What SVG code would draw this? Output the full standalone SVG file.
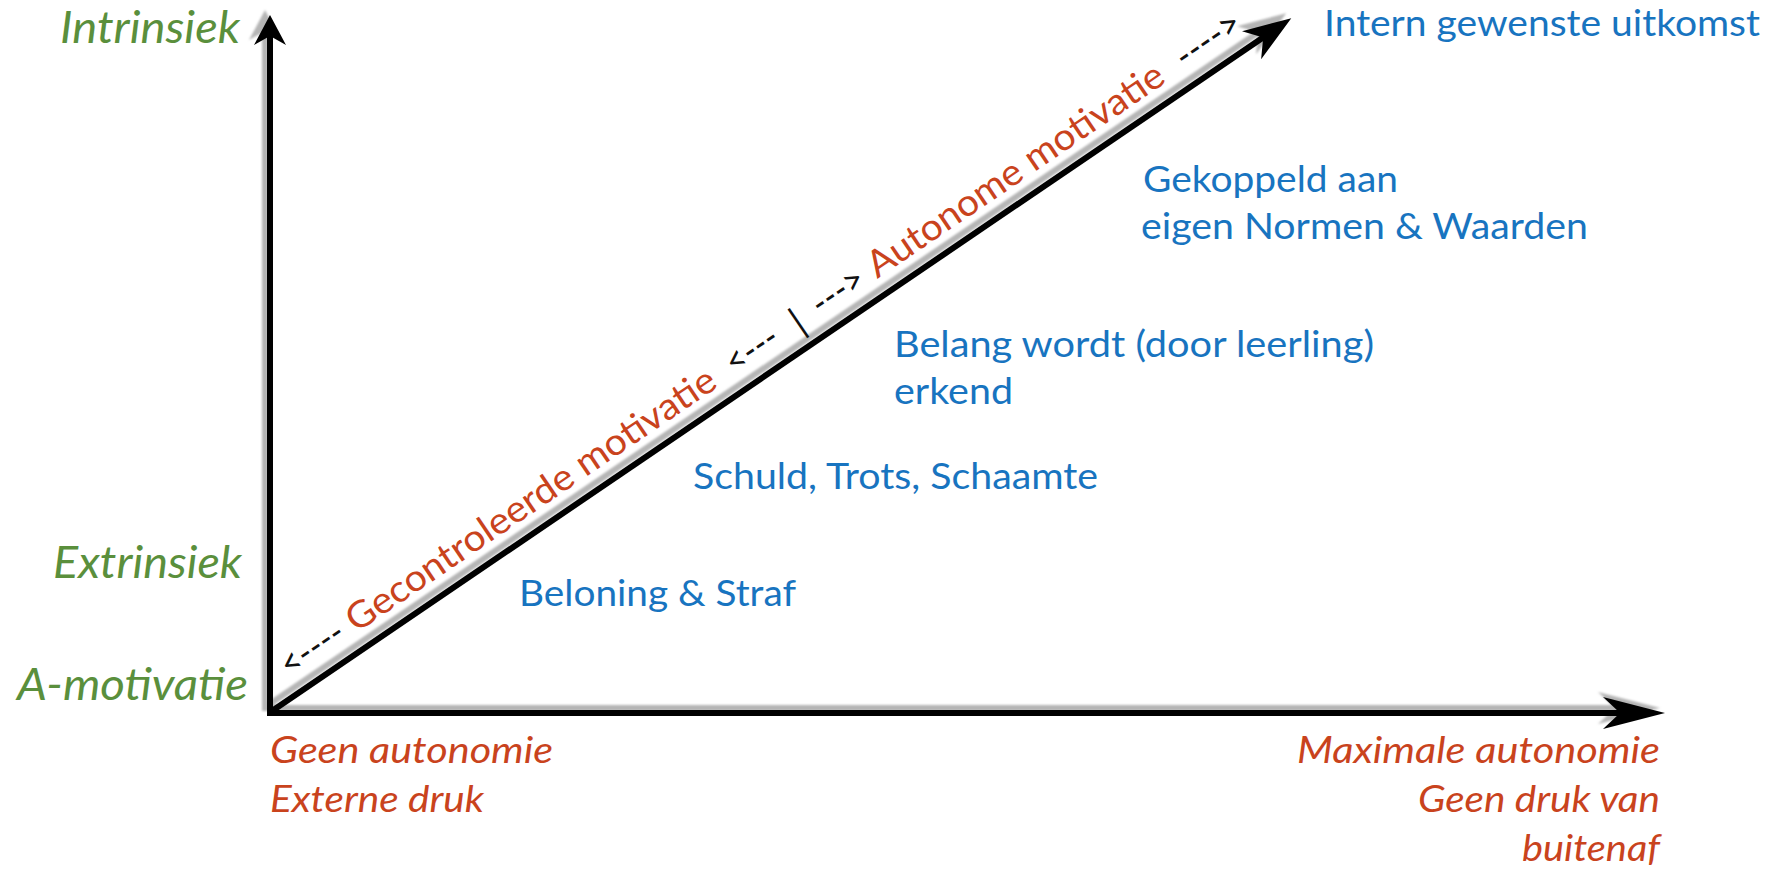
<svg xmlns="http://www.w3.org/2000/svg" width="1775" height="873" viewBox="0 0 1775 873">
<defs>
<style>
.g{font-family:Lato,"Liberation Sans",sans-serif;font-style:italic;font-size:44px;fill:#5a8f3c}
.r{font-family:Lato,"Liberation Sans",sans-serif;font-style:italic;font-size:37px;fill:#c9431d}
.b{font-family:Lato,"Liberation Sans",sans-serif;font-size:37px;fill:#1874c0}
.dr{font-family:Lato,"Liberation Sans",sans-serif;font-size:37px;fill:#c9431d}
.dk{font-family:Lato,"Liberation Sans",sans-serif;font-size:37px;fill:#111}
.ax{stroke:#000;stroke-width:6;fill:none}
.axs{stroke:#b5b5b5;stroke-width:6;fill:none}
.ah{fill:#000}
.ahs{fill:#b5b5b5}
</style>
<filter id="blur" x="-5%" y="-5%" width="110%" height="110%"><feGaussianBlur stdDeviation="1.3"/></filter>
</defs>
<rect width="1775" height="873" fill="#fff"/>

<g id="connectors">
  <g id="shadows" transform="translate(-5,-5)" filter="url(#blur)">
    <line class="axs" x1="270" y1="716" x2="270" y2="38"/>
    <path class="ahs" d="M270,15 L254,45 L270,36 L286,45 Z"/>
    <line class="axs" x1="267" y1="713" x2="1625" y2="713"/>
    <path class="ahs" d="M1665,713 L1603,697 L1620,713 L1603,729 Z"/>
    <g transform="translate(269,713) rotate(-34.2)">
      <line class="axs" x1="0" y1="0" x2="1205" y2="0"/>
      <path class="ahs" d="M1236,0 L1188,-17 L1202,0 L1188,17 Z"/>
    </g>
  </g>
  <g id="axis-y">
    <line class="ax" x1="270" y1="716" x2="270" y2="34"/>
    <path class="ah" d="M270,15 L254,45 L270,36 L286,45 Z"/>
  </g>
  <g id="axis-x">
    <line class="ax" x1="267" y1="713" x2="1625" y2="713"/>
    <path class="ah" d="M1665,713 L1603,697 L1620,713 L1603,729 Z"/>
  </g>
  <g id="diagonal" transform="translate(269,713) rotate(-34.2)">
    <line class="ax" x1="0" y1="0" x2="1205" y2="0"/>
    <path class="ah" d="M1236,0 L1188,-17 L1202,0 L1188,17 Z"/>
  </g>
</g>

<g id="diagonal-labels" transform="translate(269,713) rotate(-34.2)">
  <text class="dk" x="37" y="-17" textLength="70" lengthAdjust="spacingAndGlyphs">&lt;----</text>
  <text class="dr" x="117" y="-17" textLength="439" lengthAdjust="spacingAndGlyphs">Gecontroleerde motivatie</text>
  <text class="dk" x="575" y="-17" textLength="57" lengthAdjust="spacingAndGlyphs">&lt;---</text>
  <text class="dk" x="657" y="-14" text-anchor="middle">|</text>
  <text class="dk" x="679" y="-17" textLength="57" lengthAdjust="spacingAndGlyphs">---&gt;</text>
  <text class="dr" x="747" y="-17" textLength="351" lengthAdjust="spacingAndGlyphs">Autonome motivatie</text>
  <text class="dk" x="1119" y="-17" textLength="72" lengthAdjust="spacingAndGlyphs">----&gt;</text>
</g>

<g id="y-labels">
  <text id="intrinsiek" class="g" x="60" y="43" textLength="180" lengthAdjust="spacingAndGlyphs">Intrinsiek</text>
  <text id="extrinsiek" class="g" x="53" y="578" textLength="189" lengthAdjust="spacingAndGlyphs">Extrinsiek</text>
  <text id="a-motivatie" class="g" x="17" y="700" textLength="231" lengthAdjust="spacingAndGlyphs">A-motivatie</text>
</g>

<g id="x-left">
  <text class="r" x="270" y="763" textLength="283" lengthAdjust="spacingAndGlyphs">Geen autonomie</text>
  <text class="r" x="270" y="812" textLength="214" lengthAdjust="spacingAndGlyphs">Externe druk</text>
</g>
<g id="x-right">
  <text class="r" x="1297" y="763" textLength="363" lengthAdjust="spacingAndGlyphs">Maximale autonomie</text>
  <text class="r" x="1418" y="812" textLength="242" lengthAdjust="spacingAndGlyphs">Geen druk van</text>
  <text class="r" x="1522" y="861" textLength="138" lengthAdjust="spacingAndGlyphs">buitenaf</text>
</g>

<g id="intern">
  <text class="b" x="1324" y="36" textLength="436" lengthAdjust="spacingAndGlyphs">Intern gewenste uitkomst</text>
</g>
<g id="gekoppeld">
  <text class="b" x="1143" y="192" textLength="255" lengthAdjust="spacingAndGlyphs">Gekoppeld aan</text>
  <text class="b" x="1141" y="239" textLength="447" lengthAdjust="spacingAndGlyphs">eigen Normen &amp; Waarden</text>
</g>
<g id="belang">
  <text class="b" x="894" y="357" textLength="480" lengthAdjust="spacingAndGlyphs">Belang wordt (door leerling)</text>
  <text class="b" x="894" y="404" textLength="119" lengthAdjust="spacingAndGlyphs">erkend</text>
</g>
<g id="schuld">
  <text class="b" x="693" y="489" textLength="405" lengthAdjust="spacingAndGlyphs">Schuld, Trots, Schaamte</text>
</g>
<g id="beloning">
  <text class="b" x="519" y="606" textLength="277" lengthAdjust="spacingAndGlyphs">Beloning &amp; Straf</text>
</g>
</svg>
